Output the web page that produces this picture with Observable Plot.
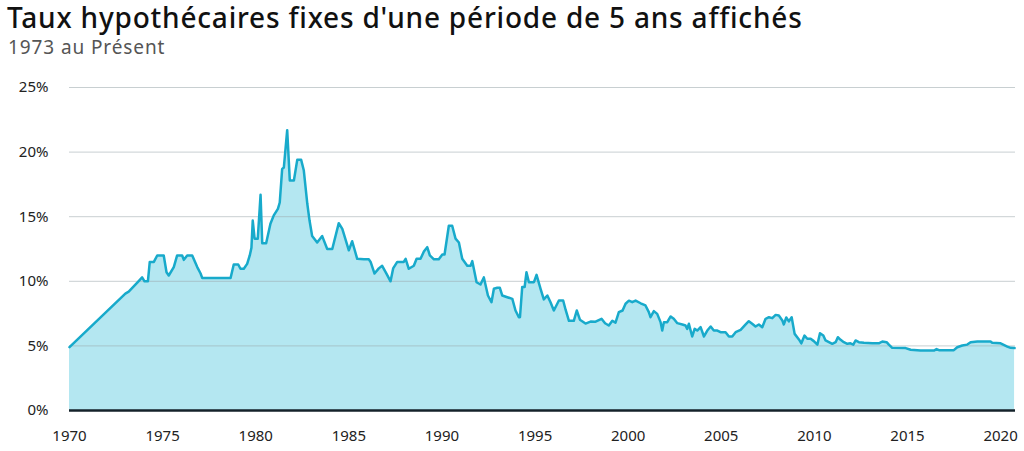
<!DOCTYPE html>
<html>
<head>
<meta charset="utf-8">
<script src="https://cdn.jsdelivr.net/npm/d3@7"></script>
<script src="https://cdn.jsdelivr.net/npm/@observablehq/plot@0.6"></script>
<style>
  body { margin: 0; background: #fff; font-family: "Noto Sans", sans-serif; }
  #head { height: 62px; padding-left: 8px; position: relative; }
  #title { position: absolute; left: 7px; top: 0px; font-size: 28px; letter-spacing: 0.8px; line-height: 34px; color: #111; font-weight: 500; white-space: nowrap; }
  #sub { position: absolute; left: 8px; top: 36px; font-size: 19px; letter-spacing: 0.9px; line-height: 22px; color: #555; white-space: nowrap; }
  #chart svg { display: block; }
</style>
</head>
<body>
<div id="head">
  <div id="title">Taux hypothécaires fixes d'une période de 5 ans affichés</div>
  <div id="sub">1973 au Présent</div>
</div>
<div id="chart"></div>
<script>
const years = [1970.0,1973.0,1973.18,1973.64,1973.9,1974.03,1974.21,1974.31,1974.53,1974.71,1975.06,1975.21,1975.33,1975.6,1975.78,1976.05,1976.14,1976.32,1976.59,1976.86,1977.04,1977.13,1978.65,1978.82,1979.06,1979.18,1979.36,1979.54,1979.68,1979.77,1979.84,1979.94,1980.11,1980.26,1980.35,1980.56,1980.79,1980.97,1981.19,1981.29,1981.42,1981.51,1981.69,1981.83,1982.05,1982.23,1982.44,1982.58,1982.77,1982.89,1983.03,1983.3,1983.57,1983.84,1984.11,1984.46,1984.65,1985.0,1985.18,1985.45,1985.81,1986.07,1986.17,1986.38,1986.61,1986.79,1987.02,1987.24,1987.38,1987.6,1987.95,1988.05,1988.22,1988.49,1988.64,1988.85,1989.03,1989.21,1989.35,1989.57,1989.83,1990.02,1990.14,1990.37,1990.55,1990.73,1990.91,1991.09,1991.36,1991.54,1991.63,1991.86,1992.07,1992.25,1992.47,1992.66,1992.79,1992.97,1993.11,1993.24,1993.51,1993.78,1993.95,1994.13,1994.19,1994.31,1994.44,1994.54,1994.67,1994.94,1995.08,1995.3,1995.47,1995.66,1995.83,1996.01,1996.28,1996.51,1996.64,1996.82,1997.08,1997.24,1997.41,1997.71,1997.98,1998.25,1998.57,1998.76,1998.96,1999.15,1999.32,1999.5,1999.7,1999.86,2000.04,2000.22,2000.4,2000.67,2000.93,2001.11,2001.2,2001.38,2001.56,2001.74,2001.83,2001.92,2002.1,2002.28,2002.45,2002.64,2002.91,2003.08,2003.17,2003.26,2003.44,2003.57,2003.71,2003.89,2004.07,2004.25,2004.43,2004.6,2004.79,2004.96,2005.23,2005.41,2005.59,2005.77,2006.04,2006.31,2006.48,2006.66,2006.84,2007.02,2007.2,2007.38,2007.56,2007.74,2007.92,2008.09,2008.28,2008.36,2008.49,2008.63,2008.78,2008.94,2009.17,2009.3,2009.47,2009.62,2009.8,2009.97,2010.16,2010.3,2010.48,2010.6,2010.78,2010.96,2011.14,2011.26,2011.41,2011.58,2011.77,2011.94,2012.09,2012.21,2012.39,2012.66,2013.11,2013.46,2013.65,2013.88,2014.0,2014.18,2014.9,2015.17,2015.7,2016.42,2016.56,2016.69,2017.49,2017.67,2017.94,2018.21,2018.39,2018.75,2019.46,2019.55,2020.0,2020.14,2020.36,2020.54,2020.75];
const rates = [4.9,9.05,9.2,9.9,10.3,10.0,10.0,11.5,11.5,12.0,12.0,10.7,10.45,11.1,12.0,12.0,11.66,12.0,12.0,11.1,10.6,10.25,10.25,11.3,11.3,10.97,10.97,11.35,12.0,12.6,14.7,13.3,13.3,16.7,12.95,12.95,14.45,15.1,15.6,16.1,18.7,18.8,21.7,17.8,17.8,19.4,19.4,18.6,16.0,14.7,13.5,13.0,13.5,12.5,12.5,14.5,14.05,12.4,13.1,11.74,11.7,11.7,11.5,10.6,11.0,11.2,10.6,10.0,11.0,11.5,11.5,11.74,10.97,11.2,11.74,11.74,12.3,12.64,12.0,11.7,11.7,12.07,12.07,14.3,14.3,13.3,13.0,11.74,11.2,11.2,11.56,9.93,9.75,10.3,8.9,8.38,9.42,9.5,9.5,8.9,8.77,8.64,7.74,7.22,7.22,9.55,9.55,10.7,9.93,9.93,10.5,9.4,8.6,8.9,8.38,7.74,8.51,8.51,7.8,6.94,6.94,7.74,7.03,6.73,6.88,6.87,7.1,6.75,6.58,6.95,6.8,7.61,7.74,8.26,8.5,8.38,8.51,8.3,8.13,7.61,7.22,7.69,7.48,6.84,6.19,6.84,6.84,7.28,7.1,6.76,6.66,6.58,6.32,6.71,5.73,6.32,6.19,6.45,5.73,6.19,6.5,6.19,6.19,6.06,6.06,5.73,5.73,6.06,6.24,6.66,6.91,6.71,6.5,6.66,6.45,7.1,7.22,7.15,7.4,7.35,6.97,6.66,7.2,6.9,7.22,5.93,5.5,5.2,5.8,5.55,5.55,5.37,5.1,5.98,5.8,5.42,5.29,5.16,5.29,5.67,5.47,5.29,5.16,5.2,5.1,5.42,5.29,5.24,5.2,5.2,5.34,5.29,5.1,4.85,4.83,4.7,4.64,4.64,4.75,4.67,4.67,4.9,5.03,5.1,5.29,5.34,5.34,5.24,5.2,5.1,4.95,4.85,4.83];
const xTicks = [1970,1975,1980,1985,1990,1995,2000,2005,2010,2015,2020];
const yTicks = [0,5,10,15,20,25];

const data = years.map((y, i) => ({year: y, rate: rates[i]}));

const chart = Plot.plot({
  width: 1024,
  height: 389,
  marginTop: 25,
  marginBottom: 41,
  marginLeft: 69,
  marginRight: 9,
  style: {fontFamily: "'Noto Sans', sans-serif", fontSize: "15px", color: "#222", background: "#fff"},
  x: {domain: [1970, 2020.8], label: null},
  y: {domain: [0, 25], label: null},
  marks: [
    Plot.areaY(data, {x: "year", y: "rate", fill: "#b4e7f1", curve: "linear"}),
    Plot.ruleY(yTicks.filter(d => d > 0), {stroke: "#9aa7ab", strokeOpacity: 0.55, strokeWidth: 1}),
    Plot.lineY(data, {x: "year", y: "rate", stroke: "#18aacb", strokeWidth: 2.5, curve: "linear"}),
    Plot.ruleY([0], {stroke: "#14222a", strokeWidth: 2.5}),
    Plot.axisX(xTicks, {tickSize: 0, tickPadding: 20, tickFormat: d => String(d), fontSize: 15, fill: "#222"}),
    Plot.axisY(yTicks, {tickSize: 0, tickPadding: 21, tickFormat: d => d + "%", fontSize: 15, fill: "#222"})
  ]
});
document.getElementById("chart").appendChild(chart);
</script>
</body>
</html>
